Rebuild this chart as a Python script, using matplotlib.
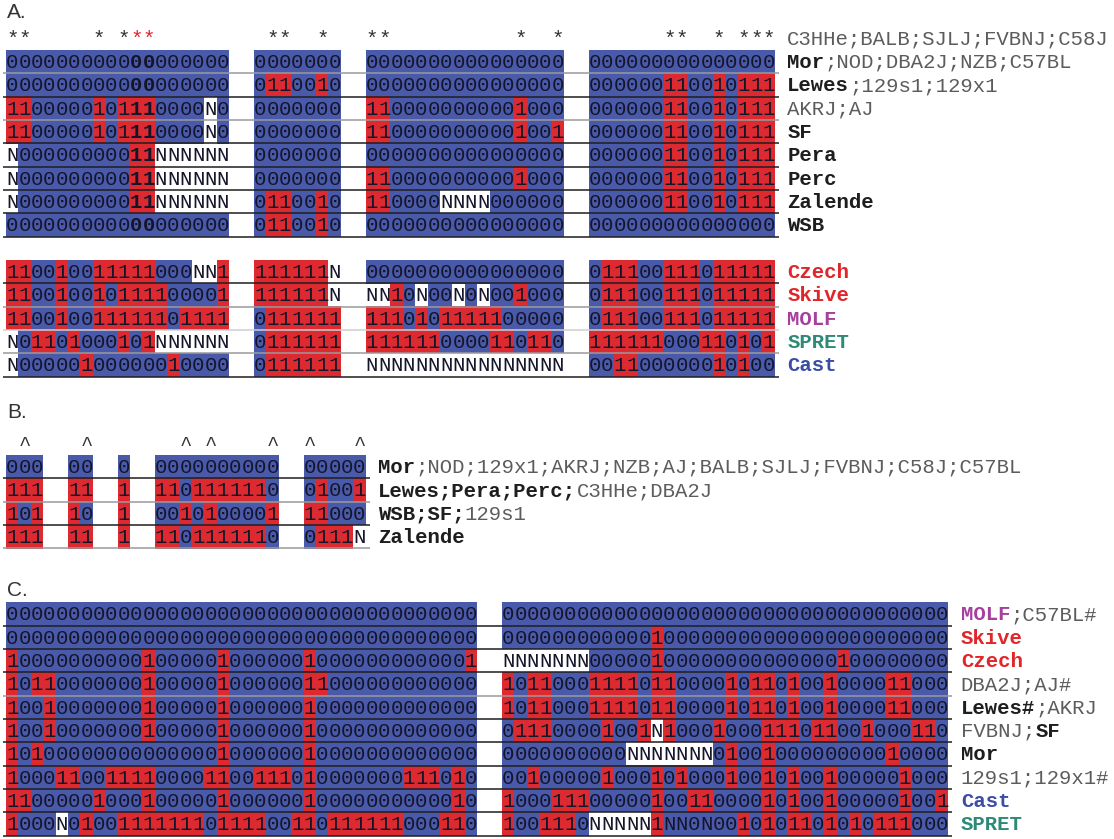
import matplotlib
matplotlib.use("Agg")
import matplotlib.pyplot as plt
from matplotlib.patches import Rectangle

# %% data: one string per strain row, one character per marker column
# '0' = blue allele, '1' = red allele, 'N' = no call (white), 'n' = no call on blue, ' ' = gap
A_STAR_COLS = [0, 1, 7, 9, 21, 22, 25, 29, 30, 41, 44, 53, 54, 57, 59, 60, 61]
A_STAR_COLS_RED = [10, 11]
A_STAR_LABEL = [("C3HHe;BALB;SJLJ;FVBNJ;C58J", "grey")]
A_BOLD_COLS = [10, 11]

A_TOP_ROWS = [
    "000000000000000000  0000000  0000000000000000  000000000000000",
    "000000000000000000  0110010  0000000000000000  000000110010111",
    "1100000101110000N0  0000000  1100000000001000  000000110010111",
    "1100000101110000N0  0000000  1100000000001001  000000110010111",
    "N00000000011NNNNNN  0000000  0000000000000000  000000110010111",
    "N00000000011NNNNNN  0000000  1100000000001000  000000110010111",
    "N00000000011NNNNNN  0110010  110000NNNN000000  000000110010111",
    "000000000000000000  0110010  0000000000000000  000000000000000",
]
A_TOP_LABELS = [
    [("Mor", "bold"), (";NOD;DBA2J;NZB;C57BL", "grey")],
    [("Lewes", "bold"), (";129s1;129x1", "grey")],
    [("AKRJ;AJ", "grey")],
    [("SF", "bold")],
    [("Pera", "bold")],
    [("Perc", "bold")],
    [("Zalende", "bold")],
    [("WSB", "bold")],
]

A_BOT_ROWS = [
    "110010011111000NN1  111111N  0000000000000000  011100111011111",
    "110010010111100001  111111N  NN10N00N0N001000  011100111011111",
    "110010011111101111  0111111  1110101111100000  011100111011111",
    "N01101000101NNNNNN  0111111  1111110000110110  111111000110101",
    "N00000100000010000  0111111  NNNNNNNNNNNNNNNN  001100000010100",
]
A_BOT_LABELS = [
    [("Czech", "red")],
    [("Skive", "red")],
    [("MOLF", "purple")],
    [("SPRET", "teal")],
    [("Cast", "blue")],
]

B_CARET_COLS = [1, 6, 14, 16, 21, 24, 28]
B_ROWS = [
    "000  00  0  0000000000  00000",
    "111  11  1  1101111110  01001",
    "101  10  1  0010100001  11000",
    "111  11  1  1101111110  0111N",
]
B_LABELS = [
    [("Mor", "bold"), (";NOD;129x1;AKRJ;NZB;AJ;BALB;SJLJ;FVBNJ;C58J;C57BL", "grey")],
    [("Lewes;Pera;Perc;", "bold"), ("C3HHe;DBA2J", "grey")],
    [("WSB;SF;", "bold"), ("129s1", "grey")],
    [("Zalende", "bold")],
]

C_ROWS = [
    "00000000000000000000000000000000000000  000000000000000000000000000000000000",
    "00000000000000000000000000000000000000  000000000000100000000000000000000000",
    "10000000000100000100000010000000000001  NNNNNNN00000100000000000000100000000",
    "10110000000100000100000011000000000000  101100011110110000101101001000011000",
    "10010000000100000100000010000000000000  101100011110110000101101001000011000",
    "10010000000100000100000010000000000000  011100001001N10001000111011001000110",
    "10100000000000000100000010000000000000  0000000000NNNNNNN0100100000000010000",
    "10001100111100001100111010000000111010  001000001000101000100101001000001000",
    "11000001000100000100000010000000000010  100011100000100110000101001000001001",
    "1000N010011111110111100110111111000110  1001110NNNNN1nn0n0010101101010111000",
]
C_LABELS = [
    [("MOLF", "purple"), (";C57BL#", "grey")],
    [("Skive", "red")],
    [("Czech", "red")],
    [("DBA2J;AJ#", "grey")],
    [("Lewes#", "bold"), (";AKRJ", "grey")],
    [("FVBNJ;", "grey"), ("SF", "bold")],
    [("Mor", "bold")],
    [("129s1;129x1#", "grey")],
    [("Cast", "blue")],
    [("SPRET", "teal")],
]

# %% layout / style
X0, CW, RH = 6.0, 12.4, 23.33
BASE = 18.0                      # baseline offset inside a row
FS = 14.9                        # pt, gives 12.4 px advance in a mono font
MONO = "Liberation Mono"
BLUE, RED = "#4a5aab", "#dc2a30"
CELL_TXT = "#15152a"
LBL_STYLE = {
    "bold": dict(color="#1e1e1e", weight="bold"),
    "grey": dict(color="#5c5c5c", weight="normal"),
    "red": dict(color="#e0262b", weight="bold"),
    "purple": dict(color="#a6409e", weight="bold"),
    "teal": dict(color="#2e8a78", weight="bold"),
    "blue": dict(color="#3b4ea6", weight="bold"),
}
DARK, LIGHT = "#1e1e1e", "#9a9a9a"


def col_x(c):
    return X0 + c * CW


def draw_label(ax, segs, col, y):
    for txt, st in segs:
        ax.text(col_x(col), y + BASE, txt, ha="left", va="baseline",
                fontsize=FS, family=MONO, zorder=4, **LBL_STYLE[st])
        col += len(txt)


def draw_rows(ax, rows, labels, top, label_col, line_cols, bold_cols=()):
    for r, s in enumerate(rows):
        y = top + r * RH
        # merge runs of same background into one rectangle
        c = 0
        while c < len(s):
            bg = {"0": BLUE, "1": RED, "n": BLUE}.get(s[c])
            c2 = c
            while c2 < len(s) and {"0": BLUE, "1": RED, "n": BLUE}.get(s[c2]) == bg and s[c2] != " ":
                c2 += 1
            if s[c] == " ":
                c += 1
                continue
            if bg is not None:
                ax.add_patch(Rectangle((col_x(c), y - 0.2), (c2 - c) * CW, RH + 0.4,
                                       facecolor=bg, edgecolor="none", zorder=1))
            c = max(c2, c + 1)
        for c, ch in enumerate(s):
            if ch == " ":
                continue
            ax.text(col_x(c) + CW / 2, y + BASE, ch.upper(), ha="center", va="baseline",
                    fontsize=FS, family=MONO, color=CELL_TXT, zorder=3,
                    weight="bold" if c in bold_cols else "normal")
        ax.plot([X0 - 3, col_x(len(s)) + 4], [y + RH, y + RH], color=line_cols[r],
                lw=1.1, zorder=2, solid_capstyle="butt")
        draw_label(ax, labels[r], label_col, y)


fig = plt.figure(figsize=(11.14, 8.39), dpi=100)
ax = fig.add_axes([0, 0, 1, 1])
ax.set_xlim(0, 1114)
ax.set_ylim(839, 0)
ax.axis("off")

# %% panel A
ax.text(7, 13, "A.", fontsize=15, family="Liberation Sans", color="#333333", va="center")
star_top = 26.7
for c in A_STAR_COLS + A_STAR_COLS_RED:
    ax.text(col_x(c) + CW / 2, star_top + BASE, "*", ha="center", va="baseline",
            fontsize=FS, family=MONO, color="#e0262b" if c in A_STAR_COLS_RED else "#333333")
draw_label(ax, A_STAR_LABEL, 63, star_top)
draw_rows(ax, A_TOP_ROWS, A_TOP_LABELS, 50.0, 63,
          [LIGHT, DARK, LIGHT, DARK, DARK, DARK, DARK, DARK], bold_cols=A_BOLD_COLS)
draw_rows(ax, A_BOT_ROWS, A_BOT_LABELS, 50.0 + 9 * RH, 63,
          [DARK, LIGHT, "#d0d0d0", LIGHT, DARK])

# %% panel B
ax.text(7, 413, "B.", fontsize=15, family="Liberation Sans", color="#333333", va="center")
caret_top = 431.7
for c in B_CARET_COLS:
    ax.text(col_x(c) + CW / 2, caret_top + BASE, "^", ha="center", va="baseline",
            fontsize=FS, family=MONO, color="#333333")
draw_rows(ax, B_ROWS, B_LABELS, 455.0, 30, [DARK, LIGHT, DARK, LIGHT])

# %% panel C
ax.text(7, 590, "C.", fontsize=15, family="Liberation Sans", color="#333333", va="center")
draw_rows(ax, C_ROWS, C_LABELS, 602.3, 77,
          [DARK, DARK, DARK, LIGHT, DARK, DARK, DARK, DARK, DARK, DARK])

fig.savefig("out.png", dpi=100)
